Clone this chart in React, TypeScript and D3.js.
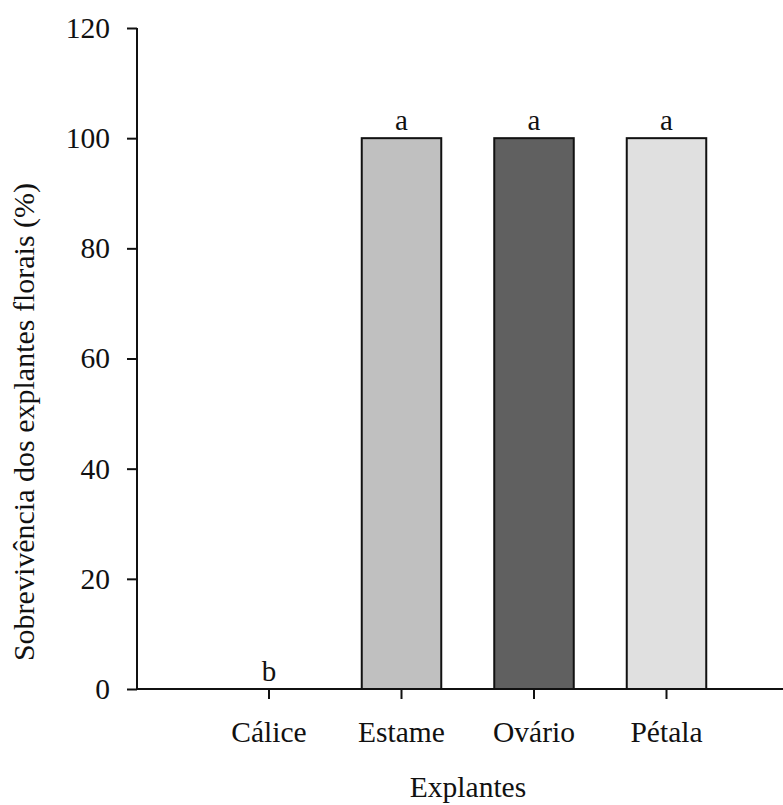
import React, { useEffect, useRef } from 'react';
import * as d3 from 'd3';

const categories = ['Cálice', 'Estame', 'Ovário', 'Pétala'];
const survival = [0, 100, 100, 100];
const letters = ['b', 'a', 'a', 'a'];
const barColors = ['#ffffff', '#c0c0c0', '#606060', '#e0e0e0'];
const yTicks = [0, 20, 40, 60, 80, 100, 120];

const App = () => {
  const chartRef = useRef<SVGSVGElement | null>(null);

  useEffect(() => {
    const width = 783;
    const height = 805;
    const axisLeft = 137;
    const axisRight = 783;
    const font = '"Liberation Serif", "Times New Roman", serif';

    const svg = d3.select(chartRef.current)
      .attr('width', width)
      .attr('height', height)
      .style('display', 'block')
      .style('background', '#fff');
    svg.selectAll('*').remove();

    const yScale = d3.scaleLinear()
      .domain([0, 120])
      .range([689, 28]);

    const xScale = d3.scaleBand<string>()
      .domain(categories)
      .range([202.75, 732.75])
      .paddingInner(0.4)
      .paddingOuter(0.2);

    // bars
    svg.append('g')
      .selectAll('rect')
      .data(categories.filter((c, i) => survival[i] > 0))
      .enter()
      .append('rect')
      .attr('x', d => xScale(d) as number)
      .attr('y', d => yScale(survival[categories.indexOf(d)]))
      .attr('width', xScale.bandwidth())
      .attr('height', d => yScale(0) - yScale(survival[categories.indexOf(d)]))
      .attr('fill', d => barColors[categories.indexOf(d)])
      .attr('stroke', '#111')
      .attr('stroke-width', 2);

    // significance letters
    svg.append('g')
      .selectAll('text')
      .data(categories)
      .enter()
      .append('text')
      .attr('x', d => (xScale(d) as number) + xScale.bandwidth() / 2)
      .attr('y', (d, i) => yScale(survival[i]) - 8)
      .attr('text-anchor', 'middle')
      .attr('font-family', font)
      .attr('font-size', 29)
      .attr('fill', '#111')
      .text((d, i) => letters[i]);

    // y axis
    const yAxis = svg.append('g')
      .attr('transform', `translate(${axisLeft},0)`)
      .call(d3.axisLeft(yScale).tickValues(yTicks).tickSize(10).tickPadding(17).tickFormat(d3.format('d')));
    yAxis.select('.domain')
      .attr('d', `M0,${yScale(120)}V${yScale(0)}`)
      .attr('stroke', '#111')
      .attr('stroke-width', 2);
    yAxis.selectAll('.tick line').attr('stroke', '#111').attr('stroke-width', 2);
    yAxis.selectAll('.tick text')
      .attr('font-family', font)
      .attr('font-size', 29.5)
      .attr('fill', '#111');

    // x axis
    const xAxis = svg.append('g')
      .attr('transform', `translate(0,${yScale(0)})`)
      .call(d3.axisBottom(xScale).tickSize(10).tickSizeOuter(0).tickPadding(22));
    xAxis.select('.domain')
      .attr('d', `M${axisLeft},0H${axisRight}`)
      .attr('stroke', '#111')
      .attr('stroke-width', 2);
    xAxis.selectAll('.tick line').attr('stroke', '#111').attr('stroke-width', 2);
    xAxis.selectAll('.tick text')
      .attr('font-family', font)
      .attr('font-size', 29.5)
      .attr('fill', '#111');

    // axis titles
    svg.append('text')
      .attr('x', 468)
      .attr('y', 797)
      .attr('text-anchor', 'middle')
      .attr('font-family', font)
      .attr('font-size', 29.5)
      .attr('fill', '#111')
      .text('Explantes');

    svg.append('text')
      .attr('transform', 'translate(34,422) rotate(-90)')
      .attr('text-anchor', 'middle')
      .attr('font-family', font)
      .attr('font-size', 30)
      .attr('fill', '#111')
      .text('Sobrevivência dos explantes florais (%)');
  }, []);

  return (
    <div style={{ position: 'absolute', left: 0, top: 0 }}>
      <svg ref={chartRef}></svg>
    </div>
  );
};

export default App;
